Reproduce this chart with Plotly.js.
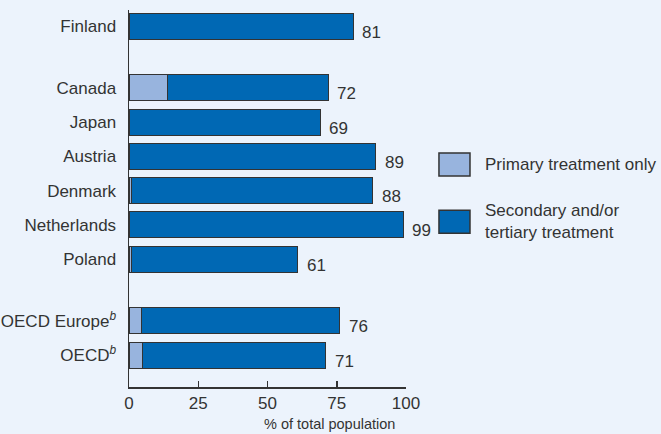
<!DOCTYPE html>
<html>
<head>
<meta charset="utf-8">
<script src="https://cdn.plot.ly/plotly-3.0.1.min.js"></script>
<style>
  html, body { margin: 0; padding: 0; background: #ecf3fc; }
  #chart { width: 661px; height: 434px; }
</style>
</head>
<body>
<div id="chart"></div>
<script>
// ---- Data ----
var countries = ["Finland", "Canada", "Japan", "Austria", "Denmark", "Netherlands", "Poland",
                 "OECD Europe<sup><i>b</i></sup>", "OECD<sup><i>b</i></sup>"];
var groupSizes = [1, 6, 2];
var primary = [0, 14, 0, 0, 1, 0, 1, 4.5, 5];
var secondary = [81, 58, 69, 89, 87, 99, 60, 71.5, 66];
var totals = [81, 72, 69, 89, 88, 99, 61, 76, 71];
var seriesNames = ["Primary treatment only", "Secondary and/or<br>tertiary treatment"];
var seriesColors = ["#98b4de", "#0068b4"];
var xTicks = [0, 25, 50, 75, 100];
var xTitle = "% of total population";

// ---- Layout helpers (category slots with gaps between groups) ----
var groupGap = 0.8;
var ypos = [];
var p = 0;
groupSizes.forEach(function (n, gi) {
  if (gi > 0) p += groupGap;
  for (var k = 0; k < n; k++) { ypos.push(p); p += 1; }
});
p -= 1;

var font = "Liberation Sans, Arial, sans-serif";
var textColor = "#333333";
var lineColor = "#333333";

var traces = [primary, secondary].map(function (vals, i) {
  return {
    type: "bar",
    orientation: "h",
    name: seriesNames[i],
    x: vals,
    y: ypos,
    width: 0.76,
    marker: { color: seriesColors[i], line: { color: lineColor, width: 1 } },
    hoverinfo: "x",
    showlegend: false
  };
});

var annotations = totals.map(function (t, i) {
  return {
    x: primary[i] + secondary[i], y: ypos[i], xref: "x", yref: "y",
    text: String(t), showarrow: false, xanchor: "left", yanchor: "middle",
    xshift: 7, yshift: -6,
    font: { family: font, size: 17, color: textColor }
  };
});

// axis title
annotations.push({
  x: 0.9675, y: -0.098, xref: "paper", yref: "paper", text: xTitle,
  showarrow: false, xanchor: "right", yanchor: "middle",
  font: { family: font, size: 14.5, color: textColor }
});

// custom legend
var shapes = [];
var legY = [[0.560, 0.621], [0.408, 0.469]];
seriesNames.forEach(function (n, i) {
  shapes.push({
    type: "rect", xref: "paper", yref: "paper",
    x0: 1.119, x1: 1.231, y0: legY[i][0], y1: legY[i][1],
    fillcolor: seriesColors[i], line: { color: lineColor, width: 1.5 }
  });
  annotations.push({
    x: 1.2765, y: (legY[i][0] + legY[i][1]) / 2, xref: "paper", yref: "paper",
    text: n, showarrow: false, xanchor: "left", yanchor: "middle", align: "left",
    font: { family: font, size: 17, color: textColor }
  });
});

var layout = {
  width: 661, height: 434,
  margin: { l: 129, r: 255, t: 10, b: 47 },
  paper_bgcolor: "#ecf3fc",
  plot_bgcolor: "#ecf3fc",
  barmode: "stack",
  font: { family: font, size: 17, color: textColor },
  xaxis: {
    range: [0, 100],
    tickvals: xTicks,
    ticktext: xTicks.map(String),
    showgrid: false, zeroline: false,
    showline: true, linecolor: lineColor, linewidth: 1.5,
    ticks: "inside", ticklen: 6, tickcolor: lineColor, tickwidth: 1.5,
    tickfont: { family: font, size: 17, color: textColor },
    fixedrange: true
  },
  yaxis: {
    range: [p + 0.93, -0.47],
    tickvals: ypos,
    ticktext: countries,
    showgrid: false, zeroline: false,
    showline: true, linecolor: lineColor, linewidth: 1.5,
    ticks: "", ticklabelstandoff: 8,
    tickfont: { family: font, size: 17, color: textColor },
    fixedrange: true
  },
  shapes: shapes,
  annotations: annotations
};

Plotly.newPlot("chart", traces, layout, { displayModeBar: false, staticPlot: true });
</script>
</body>
</html>
